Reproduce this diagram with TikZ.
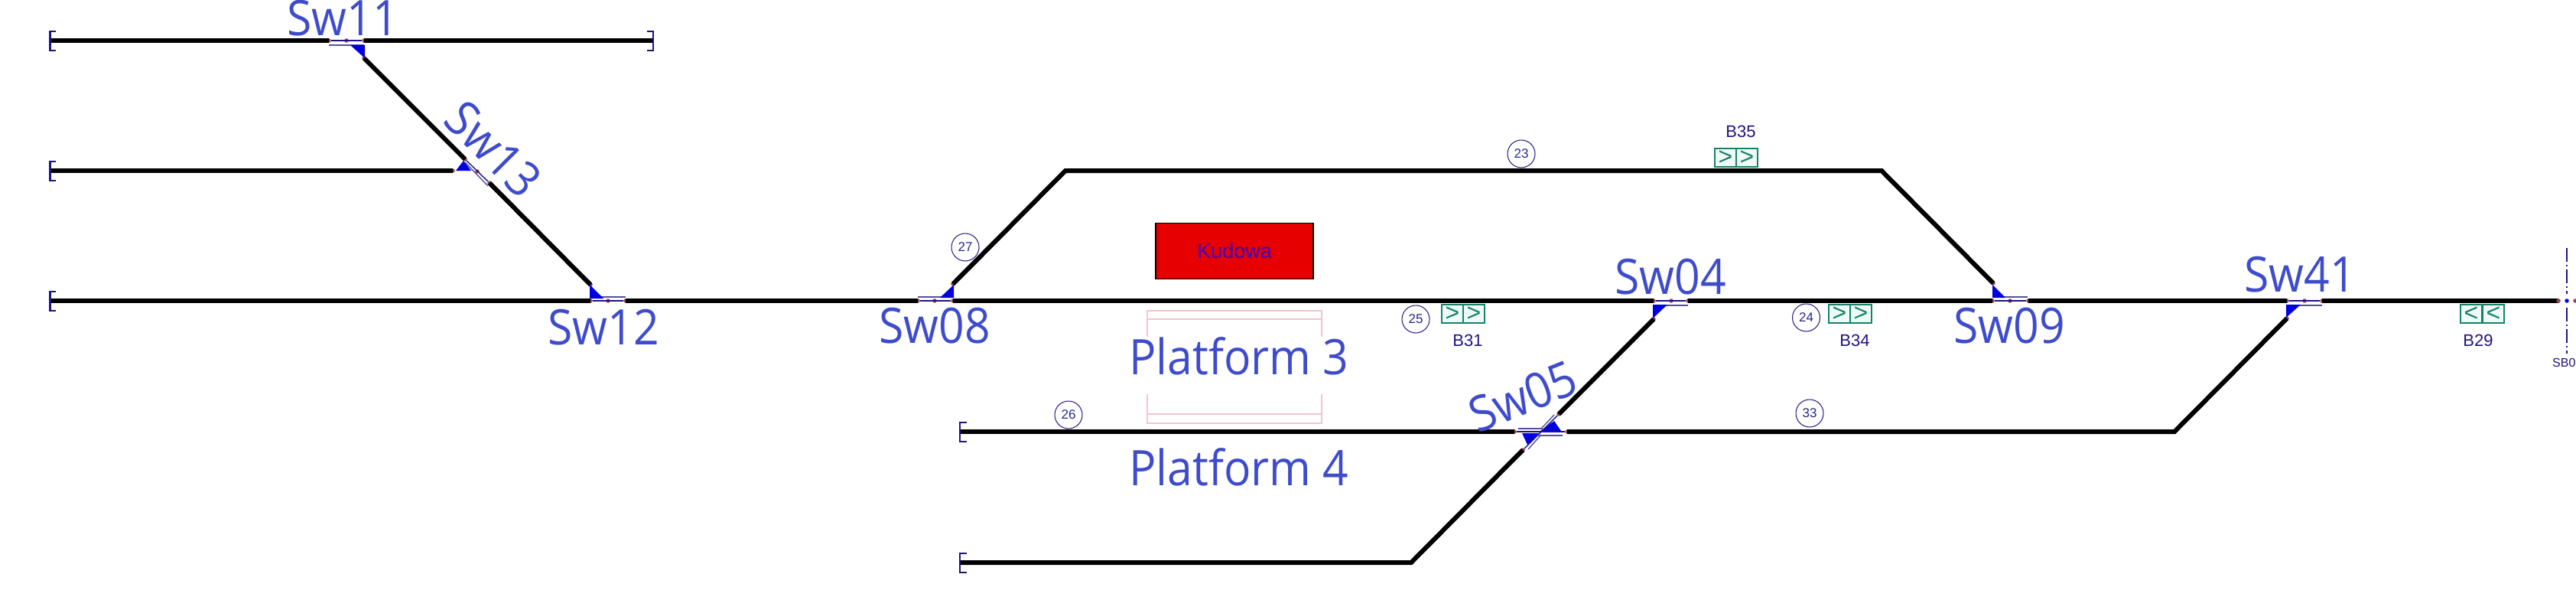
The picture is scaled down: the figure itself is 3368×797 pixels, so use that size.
\documentclass[tikz,border=0pt]{standalone}
\usepackage{fontspec}
\setmainfont{Liberation Sans}
\newfontfamily\swfont[FakeStretch=0.92]{Open Sans}
\definecolor{swblue}{RGB}{62,76,204}
\definecolor{navyline}{RGB}{30,20,130}
\definecolor{dotbrown}{RGB}{150,70,75}
\definecolor{triblue}{RGB}{0,0,225}
\definecolor{siggreen}{RGB}{25,130,105}
\definecolor{sigfill}{RGB}{238,250,246}
\definecolor{platpink}{RGB}{245,195,205}
\definecolor{kured}{RGB}{230,0,0}
\definecolor{kutext}{RGB}{60,0,190}
\definecolor{numtext}{RGB}{40,40,140}
\tikzset{
  track/.style={line width=6pt,black,line join=miter},
  swcentre/.style={line width=1.4pt,navyline},
  swoffset/.style={line width=1.4pt,navyline!75!white},
  swtri/.style={fill=triblue,draw=none},
  brk/.style={line width=2.2pt,navyline},
  swlabel/.style={font=\swfont\fontsize{64}{64}\selectfont,text=swblue,inner sep=0pt},
  platlabel/.style={font=\swfont\fontsize{64}{64}\selectfont,text=swblue,inner sep=0pt},
  tracknum/.style={circle,draw=navyline,line width=1pt,minimum size=36pt,inner sep=0pt,font=\fontsize{17}{17}\selectfont,text=numtext},
  blocklabel/.style={font=\fontsize{22}{22}\selectfont,text=navyline,inner sep=0pt},
  sigcell/.style={draw=siggreen,fill=sigfill,line width=1.6pt,minimum width=28pt,minimum height=24pt,text height=19pt,text depth=1pt,inner sep=0pt,text=siggreen,font=\fontsize{32}{32}\selectfont},
  dotb/.style={circle,fill=dotbrown,minimum size=5.5pt,inner sep=0pt},
  plat/.style={draw=platpink,line width=1.2pt},
}
\newcommand{\jdot}[2]{\node[dotb] (#1) at (#2) {};}
\begin{document}
\begin{tikzpicture}[x=1pt,y=-1pt]
\path[use as bounding box] (0,0) rectangle (3368,797);
% points
\coordinate (e1) at (66,53); \coordinate (e1r) at (854,53);
\coordinate (e2) at (66,223);
\coordinate (e3) at (66,393);
\coordinate (e4) at (1256,564);
\coordinate (e5) at (1256,735);
\coordinate (c1) at (1393,223); \coordinate (c2) at (2460,223);
\coordinate (c3) at (2843,564); \coordinate (c4) at (1845,735);
\coordinate (endr) at (3345,393);
% platform
\draw[plat] (1500,440) -- (1500,406) -- (1728,406) -- (1728,440);
\draw[plat] (1500,417) -- (1728,417);
\draw[plat] (1500,515) -- (1500,553) -- (1728,553) -- (1728,515);
\draw[plat] (1500,541) -- (1728,541);
% switch points
\jdot{s11a}{430,53} \jdot{s11b}{453,53} \jdot{s11c}{476,53} \jdot{s11d}{476,76}
\jdot{s13a}{608,208} \jdot{s13b}{624,224} \jdot{s13c}{640,239} \jdot{s13d}{592,223}
\jdot{s12a}{772,393} \jdot{s12b}{795,393} \jdot{s12c}{818,393} \jdot{s12d}{772,372}
\jdot{s08a}{1200,393} \jdot{s08b}{1222,393} \jdot{s08c}{1246,393} \jdot{s08d}{1246,371}
\jdot{s04a}{2162,393} \jdot{s04b}{2185,393} \jdot{s04c}{2207,393} \jdot{s04d}{2162,417}
\jdot{s09a}{2605,393} \jdot{s09b}{2628,393} \jdot{s09c}{2652,393} \jdot{s09d}{2606,370}
\jdot{s41a}{2990,393} \jdot{s41b}{3013,393} \jdot{s41c}{3036,393} \jdot{s41d}{2990,416}
\jdot{s05a}{1980,564} \jdot{s05b}{2049,564} \jdot{s05c}{2038,541} \jdot{s05d}{1991,588}
% tracks
\draw[track] (e1.center) -- (s11a.center);
\draw[track] (s11c.center) -- (e1r.center);
\draw[track] (s11d.center) -- (s13a.center);
\draw[track] (s13c.center) -- (s12d.center);
\draw[track] (e2.center) -- (s13d.center);
\draw[track] (e3.center) -- (s12a.center);
\draw[track] (s12c.center) -- (s08a.center);
\draw[track] (s08c.center) -- (s04a.center);
\draw[track] (s04c.center) -- (s09a.center);
\draw[track] (s09c.center) -- (s41a.center);
\draw[track] (s41c.center) -- (endr.center);
\draw[track] (s08d.center) -- (c1.center) -- (c2.center) -- (s09d.center);
\draw[track] (e4.center) -- (s05a.center);
\draw[track] (s05b.center) -- (c3.center) -- (s41d.center);
\draw[track] (e5.center) -- (c4.center) -- (s05d.center);
\draw[track] (s05c.center) -- (s04d.center);
% switch details
\draw[swcentre] (s11a) -- (s11c); \draw[swoffset] (430,59) -- (476,59);
\fill[swtri] (458,59) -- (477,59) -- (477,76) -- cycle;
\draw[swcentre] (s13a) -- (s13c); \draw[swoffset] (608,212) -- (638,243);
\fill[swtri] (596,223) -- (616,223) -- (606,210) -- cycle;
\draw[swcentre] (s12a) -- (s12c); \draw[swoffset] (772,388) -- (818,388);
\fill[swtri] (771,372) -- (771,390) -- (789,390) -- cycle;
\draw[swcentre] (s08a) -- (s08c); \draw[swoffset] (1200,388) -- (1246,388);
\fill[swtri] (1229,389) -- (1247,389) -- (1247,372) -- cycle;
\draw[swcentre] (s04a) -- (s04c); \draw[swoffset] (2162,399) -- (2207,399);
\fill[swtri] (2161,398) -- (2180,398) -- (2161,416) -- cycle;
\draw[swcentre] (s09a) -- (s09c); \draw[swoffset] (2606,388) -- (2651,388);
\fill[swtri] (2605,372) -- (2605,389) -- (2622,389) -- cycle;
\draw[swcentre] (s41a) -- (s41c); \draw[swoffset] (2990,399) -- (3036,399);
\fill[swtri] (2989,398) -- (3008,398) -- (2989,415) -- cycle;
\fill[swtri] (2032,550) -- (2041,563) -- (2014,563) -- cycle;
\fill[swtri] (1990,566) -- (1997,581) -- (2014,566) -- cycle;
\draw[swcentre] (s05a) -- (s05b); \draw[swcentre] (s05d) -- (s05c);
\draw[swoffset] (1985,560) -- (2017,560); \draw[swoffset] (2010,569) -- (2043,569);
\draw[swoffset] (1998,587) -- (2015,568); \draw[swoffset] (2015,560) -- (2032,542);
% track-end brackets
\draw[brk] (73,41) -- (65.5,41) -- (65.5,66) -- (73,66);
\draw[brk] (73,211) -- (65.5,211) -- (65.5,236) -- (73,236);
\draw[brk] (73,381) -- (65.5,381) -- (65.5,406) -- (73,406);
\draw[brk] (846,41) -- (854,41) -- (854,66) -- (846,66);
\draw[brk] (1264,552) -- (1255,552) -- (1255,577) -- (1264,577);
\draw[brk] (1264,723) -- (1255,723) -- (1255,748) -- (1264,748);
% station building
\node[draw=black,fill=kured,line width=1.6pt,minimum width=206pt,minimum height=73pt,inner sep=0pt,text=kutext,font=\fontsize{27}{27}\selectfont] (kudowa) at (1614,328) {\raisebox{-4pt}{Kudowa}};
% labels
\node[swlabel] (lsw11) at (448,24) {Sw11};
\node[swlabel] (lsw12) at (789,428) {Sw12};
\node[swlabel,rotate=-45] (lsw13) at (645,195) {Sw13};
\node[swlabel] (lsw08) at (1222,426) {Sw08};
\node[swlabel] (lsw04) at (2184,362) {Sw04};
\node[swlabel,rotate=22] (lsw05) at (1991,518) {Sw05};
\node[swlabel] (lsw09) at (2627,426) {Sw09};
\node[swlabel] (lsw41) at (3007,359) {Sw41};
\node[platlabel] (lp3) at (1620,465) {Platform 3};
\node[platlabel] (lp4) at (1620,610) {Platform 4};
% track numbers
\node[tracknum] (n23) at (1989,201) {23};
\node[tracknum] (n24) at (2361.5,415) {24};
\node[tracknum] (n25) at (1851,417) {25};
\node[tracknum] (n26) at (1397,542) {26};
\node[tracknum] (n27) at (1262,323) {27};
\node[tracknum] (n33) at (2366,540) {33};
% block signals
\node[sigcell] (b35a) at (2256,206) {>}; \node[sigcell] (b35b) at (2284,206) {>};
\node[sigcell] (b31a) at (1899,410) {>}; \node[sigcell] (b31b) at (1927,410) {>};
\node[sigcell] (b34a) at (2405,410) {>}; \node[sigcell] (b34b) at (2433,410) {>};
\node[sigcell] (b29a) at (3231,410) {<}; \node[sigcell] (b29b) at (3260,410) {<};
\node[blocklabel] (l35) at (2276,172) {B35};
\node[blocklabel] (l31) at (1919,445) {B31};
\node[blocklabel] (l34) at (2425,445) {B34};
\node[blocklabel] (l29) at (3240,445) {B29};
% section boundary
\coordinate (sbt) at (3356,324); \coordinate (sbb) at (3356,462);
\coordinate (sbm1) at (3356,384); \coordinate (sbm2) at (3356,402);
\draw[navyline,line width=1.8pt,dash pattern=on 18pt off 4pt on 2pt off 4pt] (sbt) -- (sbm1);
\draw[navyline,line width=1.8pt,dash pattern=on 18pt off 4pt on 2pt off 4pt] (sbm2) -- (sbb);
\node[dotb] (sbl) at (3345,393) {};
\node[dotb] (sbr) at (3367,393) {};
\node[circle,fill=triblue,minimum size=5.5pt,inner sep=0pt] (sbc) at (3356,393) {};
\node[anchor=west,inner sep=0pt,font=\fontsize{16}{16}\selectfont,text=navyline] (lsb) at (3337,474) {SB0};
\end{tikzpicture}
\end{document}
